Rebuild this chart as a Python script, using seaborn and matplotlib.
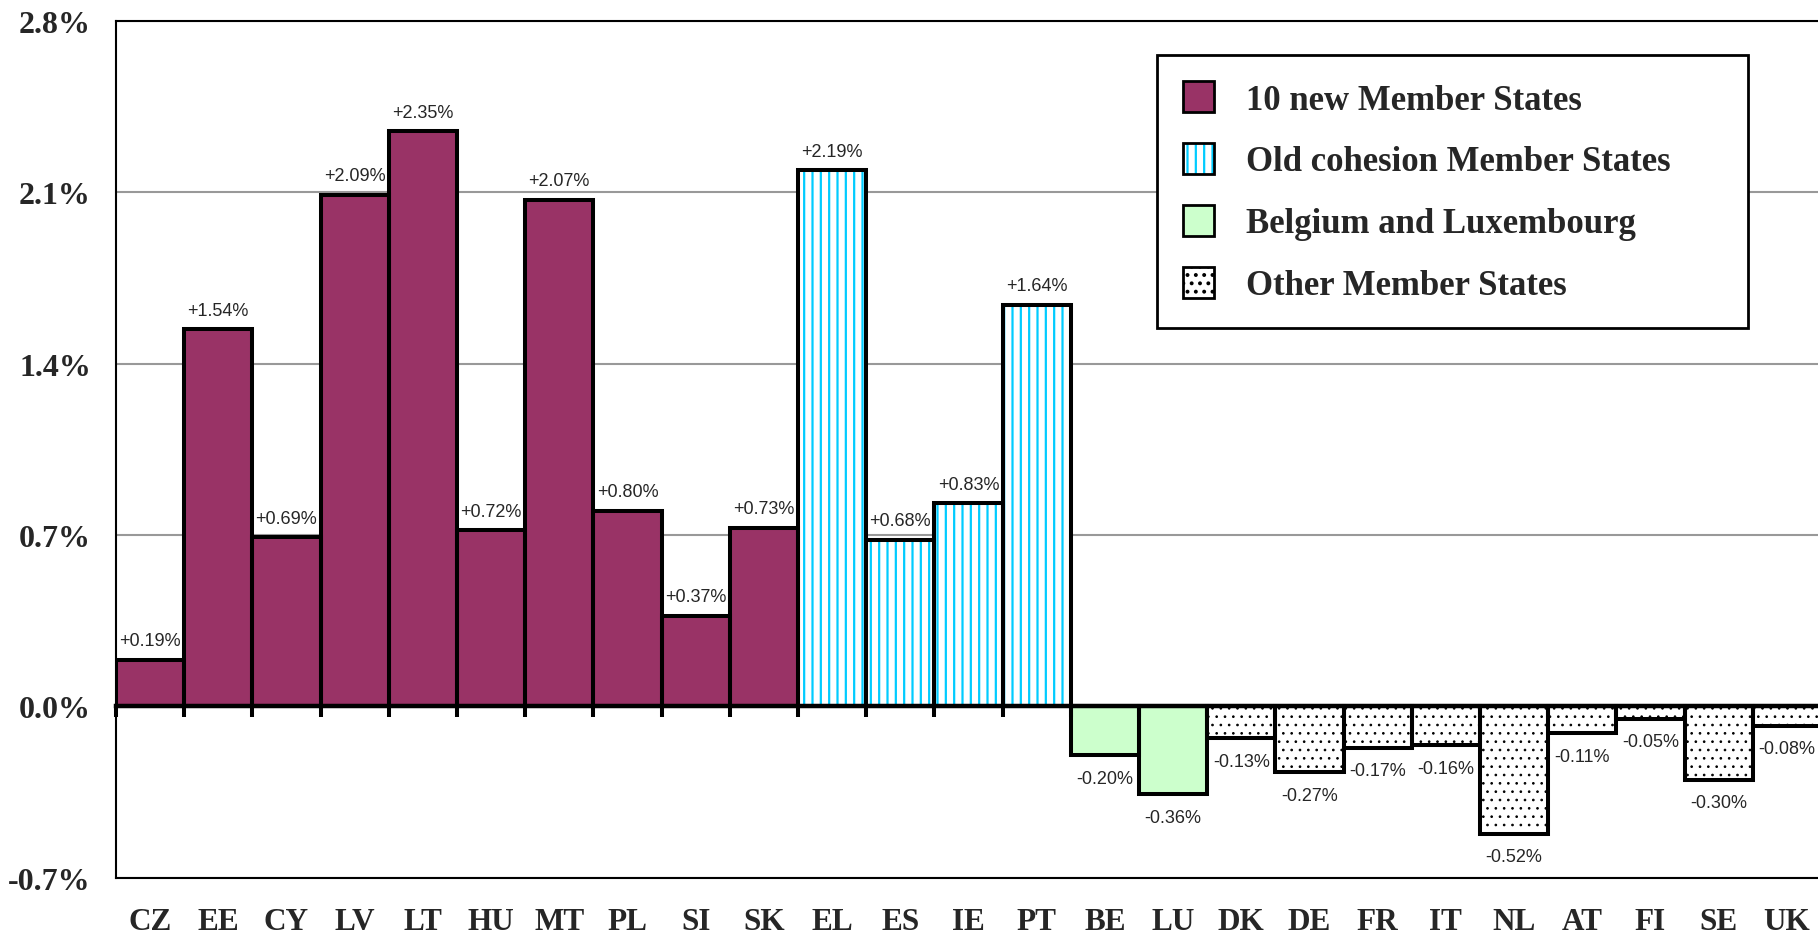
import numpy as np
import pandas as pd
import matplotlib
matplotlib.use("Agg")
import matplotlib.pyplot as plt
from matplotlib.patches import Patch
from matplotlib.legend_handler import HandlerTuple
from matplotlib.ticker import FixedLocator, FuncFormatter
import seaborn as sns

# ---- data -------------------------------------------------------------
countries = ["CZ", "EE", "CY", "LV", "LT", "HU", "MT", "PL", "SI", "SK",
             "EL", "ES", "IE", "PT", "BE", "LU", "DK", "DE", "FR", "IT",
             "NL", "AT", "FI", "SE", "UK"]
changes = [0.19, 1.54, 0.69, 2.09, 2.35, 0.72, 2.07, 0.80, 0.37, 0.73,
           2.19, 0.68, 0.83, 1.64, -0.20, -0.36, -0.13, -0.27, -0.17, -0.16,
           -0.52, -0.11, -0.05, -0.30, -0.08]
group_names = ["10 new Member States", "Old cohesion Member States",
               "Belgium and Luxembourg", "Other Member States"]
group_of = [0] * 10 + [1] * 4 + [2] * 2 + [3] * 9
y_ticks = [-0.7, 0.0, 0.7, 1.4, 2.1, 2.8]

# ---- styles per group ------------------------------------------------
styles = {
    group_names[0]: dict(facecolor="#993366", edgecolor="#993366", hatch=None, hlw=None),
    group_names[1]: dict(facecolor="white", edgecolor="#00CCFF", hatch="||", hlw=1.6),
    group_names[2]: dict(facecolor="#CCFFCC", edgecolor="#CCFFCC", hatch=None, hlw=None),
    group_names[3]: dict(facecolor="white", edgecolor="black", hatch="..", hlw=0.7),
}

df = pd.DataFrame({
    "country": countries,
    "change": changes,
    "group": [group_names[g] for g in group_of],
})

sns.set_theme(style="white")
plt.rcParams["font.family"] = ["Liberation Serif", "DejaVu Serif"]
plt.rcParams["hatch.linewidth"] = 1.6


def style_hatch(patch, st):
    """Apply fill, hatch and hatch weight of a group style to a patch."""
    patch.set_facecolor(st["facecolor"])
    patch.set_edgecolor(st["edgecolor"])
    patch.set_linewidth(0)
    if st["hatch"]:
        patch.set_hatch(st["hatch"])
        if hasattr(patch, "set_hatch_linewidth"):
            patch.set_hatch_linewidth(st["hlw"])
        else:
            patch._hatch_linewidth = st["hlw"]


fig = plt.figure(figsize=(18.18, 9.37), dpi=100)
ax = fig.add_axes([0.0638, 0.0623, 0.9378, 0.9142])

# filled / hatched bars
sns.barplot(data=df, x="country", y="change", hue="group", order=countries,
            hue_order=group_names, dodge=False, width=1.0, saturation=1,
            palette={g: styles[g]["facecolor"] for g in group_names},
            linewidth=0, errorbar=None, legend=False, ax=ax)
for p in ax.patches:
    h = p.get_height()
    if h is None or np.isnan(h):
        continue
    idx = int(round(p.get_x() + p.get_width() / 2))
    style_hatch(p, styles[group_names[group_of[idx]]])

# heavy black outlines on top
sns.barplot(data=df, x="country", y="change", order=countries, fill=False,
            color="black", width=1.0, saturation=1, linewidth=2.9,
            errorbar=None, ax=ax)

# value labels
for i, v in enumerate(changes):
    if v >= 0:
        ax.annotate(f"{v:+.2f}%", (i, v), xytext=(0, 10.5),
                    textcoords="offset points", ha="center", va="baseline",
                    fontsize=13, family="Liberation Sans")
    else:
        ax.annotate(f"{v:+.2f}%", (i, v), xytext=(0, -10.5),
                    textcoords="offset points", ha="center", va="top",
                    fontsize=13, family="Liberation Sans")

# axes limits and ticks
ymin, ymax = y_ticks[0], y_ticks[-1]
ax.set_xlim(-0.5, len(countries) - 0.5)
ax.set_ylim(ymin, ymax)
ax.yaxis.set_major_locator(FixedLocator(y_ticks))
ax.yaxis.set_major_formatter(FuncFormatter(lambda v, _: f"{v:.1f}%"))
ax.tick_params(axis="y", direction="inout", length=16, width=1.5,
               pad=10, labelsize=23, color="black")
for lab in ax.get_yticklabels():
    lab.set_fontweight("bold")
ax.tick_params(axis="x", length=0, pad=21, labelsize=22.5)
for lab in ax.get_xticklabels():
    lab.set_fontweight("bold")
ax.set_xlabel("")
ax.set_ylabel("")

ax.yaxis.grid(True, color="#999999", linewidth=1.5)
ax.xaxis.grid(False)
ax.set_axisbelow(True)

for side in ("left", "top", "bottom"):
    ax.spines[side].set_visible(True)
    ax.spines[side].set_color("black")
    ax.spines[side].set_linewidth(1.5)
ax.spines["right"].set_visible(False)

# zero baseline with category boundary ticks
zero_frac = (0 - ymin) / (ymax - ymin)
sec = ax.secondary_xaxis(zero_frac)
sec.set_xticks(np.arange(len(countries) + 1) - 0.5)
sec.set_xticklabels([])
sec.tick_params(axis="x", direction="out", length=8, width=2.9, color="black")
sec.spines["bottom"].set_linewidth(3.2)
sec.spines["bottom"].set_color("black")
sec.set_zorder(5)

# legend: fill/hatch swatch overlaid with a black outline
handles = []
for g in group_names:
    fill = Patch(label=g)
    style_hatch(fill, styles[g])
    outline = Patch(facecolor="none", edgecolor="black", linewidth=2.0)
    handles.append((fill, outline))
leg = ax.legend(handles=handles, labels=group_names, loc="upper left",
                handler_map={tuple: HandlerTuple(ndivide=1, pad=0)},
                bbox_to_anchor=(0.6364, 0.6574, 0.3251, 0.2828),
                bbox_transform=fig.transFigure, mode="expand",
                prop={"family": "Liberation Serif", "weight": "bold", "size": 25},
                frameon=True, fancybox=False, shadow=False, framealpha=1,
                edgecolor="black", handlelength=0.9, handleheight=1.0,
                handletextpad=0.9, labelspacing=0.76, borderpad=0.75,
                borderaxespad=0)
leg.get_frame().set_linewidth(2.0)
leg.set_zorder(10)

fig.savefig("out.png", dpi=100)
